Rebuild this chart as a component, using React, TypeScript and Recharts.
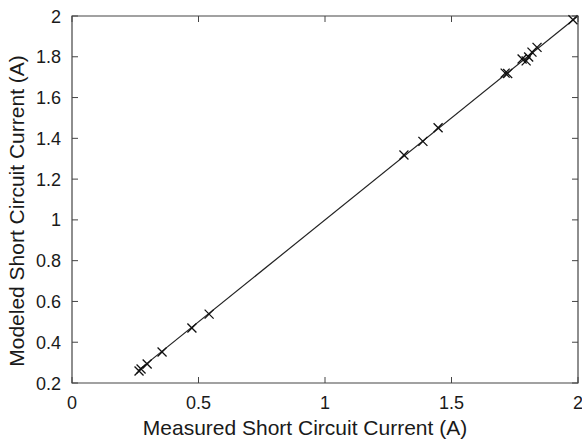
import { ReferenceArea, Scatter, ScatterChart, XAxis, YAxis } from 'recharts'

const measured = [0.265, 0.273, 0.297, 0.356, 0.474, 0.542, 1.312, 1.387, 1.447, 1.712, 1.722, 1.779, 1.795, 1.805, 1.818, 1.838, 1.98]
const modeled = [0.259, 0.269, 0.293, 0.352, 0.47, 0.538, 1.318, 1.385, 1.452, 1.72, 1.718, 1.789, 1.78, 1.799, 1.823, 1.846, 1.982]
const fitX = [0.262, 2]
const fitY = [0.262, 2]
const xTicks = [0, 0.5, 1, 1.5, 2]
const yTicks = [0.2, 0.4, 0.6, 0.8, 1, 1.2, 1.4, 1.6, 1.8, 2]
const xTitle = 'Measured Short Circuit Current (A)'
const yTitle = 'Modeled Short Circuit Current (A)'

const points = measured.map((x, i) => ({ x, y: modeled[i] }))
const fit = fitX.map((x, i) => ({ x, y: fitY[i] }))

const W = 582
const H = 443
const M = { top: 16, right: 4, bottom: 0, left: 0 }
const XH = 60
const YW = 72
const PLOT = { left: YW, top: M.top, right: W - M.right, bottom: H - XH }
const TICK = 6
const FONT = '"Liberation Sans", Arial, Helvetica, sans-serif'
const INK = '#1a1a1a'
const FRAME = '#444'

function Cross(props: any) {
  const { cx, cy } = props
  const r = 4.5
  return (
    <g stroke="#111" strokeWidth={1.3}>
      <line x1={cx - r} y1={cy - r} x2={cx + r} y2={cy + r} />
      <line x1={cx - r} y1={cy + r} x2={cx + r} y2={cy - r} />
    </g>
  )
}

function XTick(props: any) {
  const { x, payload } = props
  return (
    <g>
      <line x1={x} x2={x} y1={PLOT.bottom} y2={PLOT.bottom - TICK} stroke={FRAME} />
      <line x1={x} x2={x} y1={PLOT.top} y2={PLOT.top + TICK} stroke={FRAME} />
      <text x={x} y={PLOT.bottom + 26} textAnchor="middle" fontSize={18} fill={INK} fontFamily={FONT}>
        {payload.value}
      </text>
    </g>
  )
}

function YTick(props: any) {
  const { y, payload } = props
  return (
    <g>
      <line x1={PLOT.left} x2={PLOT.left + TICK} y1={y} y2={y} stroke={FRAME} />
      <line x1={PLOT.right} x2={PLOT.right - TICK} y1={y} y2={y} stroke={FRAME} />
      <text x={PLOT.left - 11} y={y + 6.5} textAnchor="end" fontSize={18} fill={INK} fontFamily={FONT}>
        {payload.value}
      </text>
    </g>
  )
}

// axis titles sit a little off the plot centre
const XLabel = () => (
  <text x={305} y={435} textAnchor="middle" fontSize={21} fill={INK} fontFamily={FONT}>
    {xTitle}
  </text>
)

const YLabel = () => (
  <text x={24} y={211} transform="rotate(-90 24 211)" textAnchor="middle" fontSize={21} fill={INK} fontFamily={FONT}>
    {yTitle}
  </text>
)

export default function App() {
  return (
    <div style={{ position: 'absolute', left: 0, top: 0, background: '#fff' }}>
      <ScatterChart width={W} height={H} margin={M}>
        <XAxis
          type="number"
          dataKey="x"
          domain={[0, 2]}
          ticks={xTicks}
          height={XH}
          axisLine={false}
          tickLine={false}
          tick={<XTick />}
          label={<XLabel />}
        />
        <YAxis
          type="number"
          dataKey="y"
          domain={[0.2, 2]}
          ticks={yTicks}
          width={YW}
          axisLine={false}
          tickLine={false}
          tick={<YTick />}
          label={<YLabel />}
        />
        <ReferenceArea x1={0} x2={2} y1={0.2} y2={2} fill="none" stroke={FRAME} strokeWidth={1.2} ifOverflow="visible" />
        <Scatter data={fit} line={{ stroke: '#222', strokeWidth: 1.2 }} shape={() => null} isAnimationActive={false} />
        <Scatter data={points} shape={<Cross />} isAnimationActive={false} />
      </ScatterChart>
    </div>
  )
}
